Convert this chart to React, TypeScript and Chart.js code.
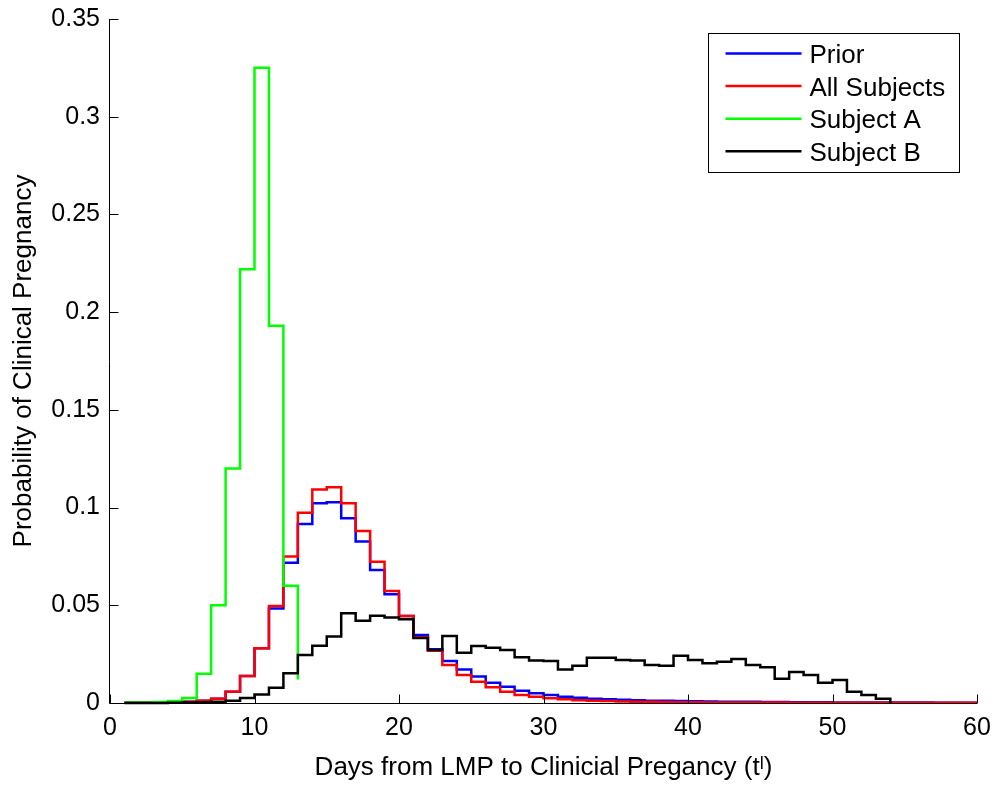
import React, { useEffect, useRef } from "react";
import { Chart, registerables } from "chart.js";

Chart.register(...registerables);

// ---------- data ----------
const days = [
  1, 2, 3, 4, 5, 6, 7, 8, 9, 10, 11, 12, 13, 14, 15, 16, 17, 18, 19, 20,
  21, 22, 23, 24, 25, 26, 27, 28, 29, 30, 31, 32, 33, 34, 35, 36, 37, 38, 39, 40,
  41, 42, 43, 44, 45, 46, 47, 48, 49, 50, 51, 52, 53, 54, 55, 56, 57, 58, 59, 60,
];

const priorValues = [
  0.0001, 0.0001, 0.0002, 0.0003, 0.0006, 0.0012, 0.0022, 0.0058, 0.0138, 0.028,
  0.0484, 0.0718, 0.0916, 0.1022, 0.1027, 0.0945, 0.0826, 0.068, 0.0556, 0.0445,
  0.0348, 0.0275, 0.0215, 0.0172, 0.0135, 0.0104, 0.0083, 0.0063, 0.005, 0.0041,
  0.0032, 0.0027, 0.0022, 0.0019, 0.0016, 0.0014, 0.0012, 0.0011, 0.001, 0.0009,
  0.0008, 0.0007, 0.0007, 0.0006, 0.0005, 0.0005, 0.0004, 0.0004, 0.0004, 0.0003,
  0.0003, 0.0003, 0.0002, 0.0002, 0.0002, 0.0002, 0.0001, 0.0001, 0.0001, 0.0001,
];

const allSubjectsValues = [
  0.0001, 0.0001, 0.0002, 0.0003, 0.0006, 0.0012, 0.0022, 0.0058, 0.0138, 0.028,
  0.0496, 0.0749, 0.0974, 0.1093, 0.1104, 0.1022, 0.088, 0.0723, 0.0573, 0.0445,
  0.0336, 0.0268, 0.0194, 0.0143, 0.0109, 0.008, 0.0058, 0.0041, 0.0032, 0.0024,
  0.0019, 0.0014, 0.0012, 0.001, 0.0008, 0.0007, 0.0006, 0.0005, 0.0004, 0.0004,
  0.0003, 0.0003, 0.0002, 0.0002, 0.0002, 0.0002, 0.0001, 0.0001, 0.0001, 0.0001,
  0.0001, 0.0001, 0.0001, 0.0001, 0.0001, 0.0001, 0.0001, 0.0001, 0.0001, 0.0001,
];

const subjectADays = [1, 2, 3, 4, 5, 6, 7, 8, 9, 10, 11, 12, 13];
const subjectAValues = [
  0.0002, 0.0003, 0.0005, 0.001, 0.0025, 0.015, 0.05, 0.12, 0.222, 0.325, 0.193, 0.06, 0.012,
];

const subjectBDays = [
  1, 2, 3, 4, 5, 6, 7, 8, 9, 10, 11, 12, 13, 14, 15, 16, 17, 18, 19, 20,
  21, 22, 23, 24, 25, 26, 27, 28, 29, 30, 31, 32, 33, 34, 35, 36, 37, 38, 39, 40,
  41, 42, 43, 44, 45, 46, 47, 48, 49, 50, 51, 52, 53, 54,
];
const subjectBValues = [
  0, 0, 0, 0.0001, 0.0002, 0.0004, 0.0007, 0.0012, 0.0026, 0.0044,
  0.0078, 0.0152, 0.0246, 0.0293, 0.034, 0.0459, 0.0421, 0.0447, 0.0437, 0.0428,
  0.0333, 0.0271, 0.0343, 0.0257, 0.0292, 0.0283, 0.0271, 0.0234, 0.0217, 0.0215,
  0.0172, 0.0191, 0.0232, 0.0232, 0.022, 0.0217, 0.0194, 0.019, 0.0242, 0.022,
  0.0203, 0.0211, 0.0225, 0.0194, 0.0183, 0.0124, 0.0159, 0.0143, 0.0104, 0.0118,
  0.0058, 0.0041, 0.0022, 0,
];

const seriesLabels = ["Prior", "All Subjects", "Subject A", "Subject B"];
const seriesColors = ["#0000ff", "#ff0000", "#00ff00", "#000000"];

const xTitle = "Days from LMP to Clinicial Pregancy (t\u02E1)";
const yTitle = "Probability of Clinical Pregnancy";

const FONT = "'Liberation Sans', Arial, Helvetica, sans-serif";

// ---------- plugins ----------
const matlabAxes = {
  id: "matlabAxes",
  afterDatasetsDraw(chart: any) {
    const { ctx, chartArea, scales } = chart;
    const { left, right, top, bottom } = chartArea;
    const xs = scales.x;
    const ys = scales.y;
    const tl = 9;
    ctx.save();
    ctx.strokeStyle = "#000";
    ctx.lineWidth = 1;
    ctx.beginPath();
    const lx = Math.round(left) - 0.5;
    const by = Math.round(bottom) + 0.5;
    ctx.moveTo(lx, top);
    ctx.lineTo(lx, by);
    ctx.lineTo(right, by);
    ys.ticks.forEach((t: any) => {
      const py = Math.round(ys.getPixelForValue(t.value)) + 0.5;
      ctx.moveTo(lx, py);
      ctx.lineTo(lx + tl, py);
    });
    xs.ticks.forEach((t: any) => {
      const px = Math.round(xs.getPixelForValue(t.value)) + 0.5;
      ctx.moveTo(px, by);
      ctx.lineTo(px, by - tl);
    });
    ctx.stroke();
    ctx.restore();
  },
};

const boxLegend = {
  id: "boxLegend",
  afterDraw(chart: any) {
    const { ctx, chartArea } = chart;
    const w = 251;
    const h = 139;
    const bx = Math.round(chartArea.right - 18 - w) + 0.5;
    const bty = Math.round(chartArea.top + 14) + 0.5;
    ctx.save();
    ctx.fillStyle = "#ffffff";
    ctx.fillRect(bx, bty, w, h);
    ctx.strokeStyle = "#000";
    ctx.lineWidth = 1;
    ctx.strokeRect(bx, bty, w, h);
    ctx.font = `26px ${FONT}`;
    ctx.textBaseline = "alphabetic";
    ctx.textAlign = "left";
    chart.data.datasets.forEach((ds: any, i: number) => {
      const cy = bty + 20 + i * 32.6;
      ctx.strokeStyle = ds.borderColor;
      ctx.lineWidth = 2.5;
      ctx.beginPath();
      ctx.moveTo(bx + 17, cy);
      ctx.lineTo(bx + 93, cy);
      ctx.stroke();
      ctx.fillStyle = "#000";
      ctx.fillText(ds.label, bx + 101, cy + 9.5);
    });
    ctx.restore();
  },
};

function toPoints(xv: number[], yv: number[]) {
  return xv.map((x, i) => ({ x, y: yv[i] }));
}

export default function App() {
  const canvasRef = useRef<HTMLCanvasElement | null>(null);

  useEffect(() => {
    const canvas = canvasRef.current;
    if (!canvas) return;
    const mk = (i: number, data: any[], order: number) => ({
      label: seriesLabels[i],
      data,
      borderColor: seriesColors[i],
      backgroundColor: seriesColors[i],
      borderWidth: 2.5,
      pointRadius: 0,
      pointHoverRadius: 0,
      fill: false,
      stepped: "before" as const,
      tension: 0,
      clip: false as any,
      order,
    });
    const chart = new Chart(canvas, {
      type: "line",
      data: {
        datasets: [
          mk(0, toPoints(days, priorValues), 4),
          mk(1, toPoints(days, allSubjectsValues), 3),
          mk(2, toPoints(subjectADays, subjectAValues), 2),
          mk(3, toPoints(subjectBDays, subjectBValues), 1),
        ],
      },
      options: {
        animation: false,
        responsive: false,
        devicePixelRatio: 1,
        layout: { padding: { top: 19, right: 22, left: 0, bottom: 0 } },
        plugins: {
          legend: { display: false },
          tooltip: { enabled: false },
        },
        scales: {
          x: {
            type: "linear",
            min: 0,
            max: 60,
            grid: { display: false, drawTicks: false },
            border: { display: false },
            ticks: {
              stepSize: 10,
              color: "#000",
              padding: 10,
              maxRotation: 0,
              font: { family: FONT, size: 25 },
            },
            title: {
              display: true,
              text: xTitle,
              color: "#000",
              font: { family: FONT, size: 26 },
              padding: { top: 0, bottom: 4 },
            },
            afterFit: (s: any) => {
              s.height = 84;
              s.paddingLeft = 0;
              s.paddingRight = 0;
            },
          },
          y: {
            type: "linear",
            min: 0,
            max: 0.35,
            grid: { display: false, drawTicks: false },
            border: { display: false },
            ticks: {
              stepSize: 0.05,
              color: "#000",
              padding: 10,
              font: { family: FONT, size: 25 },
              callback: (v: any) => String(Math.round(Number(v) * 100) / 100),
            },
            title: {
              display: true,
              text: yTitle,
              color: "#000",
              font: { family: FONT, size: 26 },
              padding: { top: 8, bottom: 0 },
            },
            afterFit: (s: any) => {
              s.width = 110;
              s.paddingTop = 0;
              s.paddingBottom = 0;
            },
          },
        },
      },
      plugins: [matlabAxes, boxLegend],
    });
    return () => chart.destroy();
  }, []);

  return (
    <div style={{ position: "fixed", left: 0, top: 0, width: 999, height: 787, background: "#fff" }}>
      <canvas ref={canvasRef} width={999} height={787} style={{ display: "block" }} />
    </div>
  );
}
